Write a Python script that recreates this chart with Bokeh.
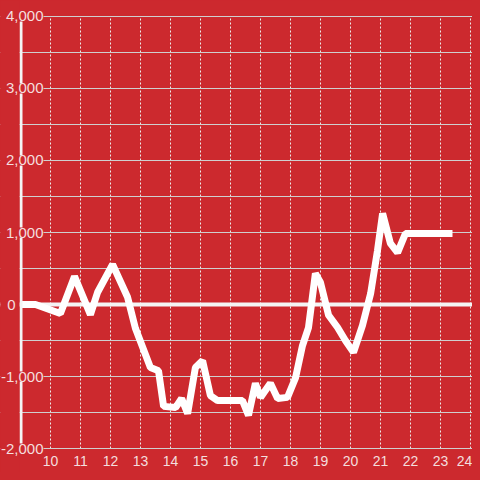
from bokeh.plotting import figure
from bokeh.models import (FixedTicker, Span, Range1d, GlobalInlineStyleSheet,
                          LabelSet, ColumnDataSource, BoxAnnotation)
from bokeh.core.properties import value
from bokeh.embed import file_html
from bokeh.resources import INLINE

# ---- data ----
hours = [9.0, 9.5, 10.33, 10.8, 11.33, 11.57, 12.07, 12.57, 12.83, 13.33, 13.6,
         13.77, 14.17, 14.37, 14.57, 14.83, 15.07, 15.33, 15.57, 16.4, 16.6,
         16.83, 17.0, 17.33, 17.57, 17.9, 18.17, 18.4, 18.6, 18.83, 19.0, 19.27,
         19.57, 19.83, 20.1, 20.4, 20.67, 20.9, 21.07, 21.33, 21.57, 21.83, 23.4]
values = [0, 0, -125, 390, -140, 170, 555, 100, -330, -875, -920,
          -1415, -1430, -1305, -1515, -875, -780, -1265, -1335, -1335, -1540,
          -1095, -1290, -1095, -1305, -1290, -1015, -570, -320, 430, 305, -150,
          -320, -500, -665, -290, 150, 750, 1265, 850, 720, 985, 985]
x_ticks = list(range(10, 25))
y_label_ticks = [-2000, -1000, 1000, 2000, 3000, 4000]
y_zero_tick = [0]
y_grid_ticks = list(range(-2000, 4001, 500))

BG = "#cc292e"
LABEL = "#f4dede"
GRID = "#cfcfcf"
WHITE = "#f4f4f4"
FONT = value("Liberation Sans")

Y_MIN, Y_MAX = min(y_grid_ticks), max(y_grid_ticks)
BAR_X = 9.0167      # the white vertical axis bar
LEFT_EDGE = 8.9667  # plain background left of the bar
X_LABEL_Y = -2180   # row of the hour labels, below the lowest grid line

p = figure(width=472, height=472, output_backend="svg", toolbar_location=None,
           x_range=Range1d(8.3333, 24.0667), y_range=Range1d(-2333.3, 4222.2),
           min_border_left=0, min_border_right=0, min_border_top=0,
           min_border_bottom=0, x_axis_location=None, y_axis_location=None)
p.background_fill_color = BG
p.border_fill_color = BG
p.outline_line_color = None
p.stylesheets = [GlobalInlineStyleSheet(css="body{background:%s;}" % BG)]

# horizontal grid (every 500), vertical dashed grid limited to the value span
p.xgrid.visible = False
p.ygrid.ticker = FixedTicker(ticks=y_grid_ticks, minor_ticks=[])
p.ygrid.grid_line_color = GRID
p.ygrid.grid_line_width = 1
vg = p.segment(x0=x_ticks, y0=Y_MIN, x1=x_ticks, y1=Y_MAX,
               line_color="#ececec", line_width=1, line_dash="2 2")
vg.level = "underlay"
# hide the horizontal grid below the lowest value line
p.add_layout(BoxAnnotation(top=Y_MIN - 10, fill_color=BG, fill_alpha=1,
                           line_color=None, level="underlay"))

# zero line
p.add_layout(Span(location=0, dimension="width", line_color=WHITE,
                  line_width=4, level="underlay"))

# data line
p.line(hours, values, line_color="#ffffff", line_width=7, line_join="bevel")

# plain strip left of the bar, then the bar itself
p.add_layout(BoxAnnotation(right=LEFT_EDGE, fill_color=BG, fill_alpha=1,
                           line_color=None, level="annotation"))
bar = p.segment(x0=[BAR_X], y0=[Y_MIN], x1=[BAR_X], y1=[Y_MAX],
                line_color=WHITE, line_width=3)
bar.level = "annotation"

# y labels with a background that hides bar and grid lines behind them
lab_src = ColumnDataSource(dict(y=y_label_ticks,
                                text=[f"{v:,}" for v in y_label_ticks]))
p.add_layout(LabelSet(x=9.7667, y="y", text="text", source=lab_src,
                      text_align="right", text_baseline="middle",
                      text_color=LABEL, text_font=FONT, text_font_size="15px",
                      background_fill_color=BG, level="overlay"))
zero_src = ColumnDataSource(dict(y=y_zero_tick,
                                 text=[f"{v:,}" for v in y_zero_tick]))
p.add_layout(LabelSet(x=8.8333, y="y", text="text", source=zero_src,
                      text_align="right", text_baseline="middle",
                      text_color=LABEL, text_font=FONT, text_font_size="15px",
                      level="overlay"))

# hour labels under the grid
x_off = [0] * (len(x_ticks) - 1) + [-6]
x_src = ColumnDataSource(dict(x=x_ticks, text=[str(t) for t in x_ticks],
                              off=x_off))
p.add_layout(LabelSet(x="x", y=X_LABEL_Y, text="text", source=x_src,
                      x_offset="off", text_align="center",
                      text_baseline="middle", text_color=LABEL,
                      text_font=FONT, text_font_size="14px", level="overlay"))

open("out.html", "w").write(file_html(p, INLINE))
